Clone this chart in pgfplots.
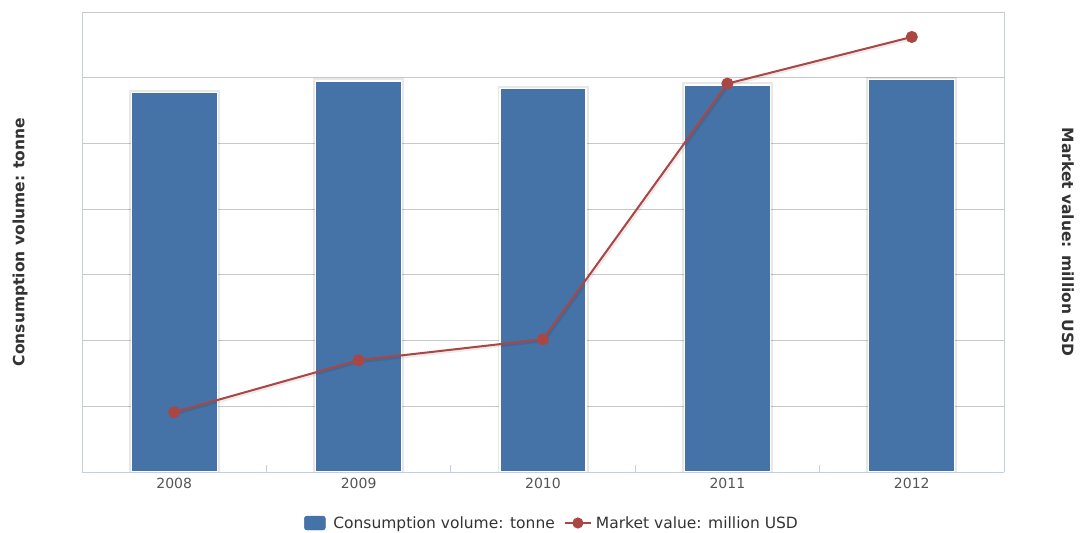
\documentclass[border=0pt]{standalone}
\usepackage{pgfplots}
\pgfplotsset{compat=1.18}
\usepackage{fontspec}
\setmainfont{DejaVu Sans}
\definecolor{barblue}{HTML}{4572A7}
\definecolor{linered}{HTML}{AA4643}
\definecolor{axisblue}{HTML}{C0D0E0}
\definecolor{gridgray}{HTML}{C8C8C8}
\definecolor{txt}{HTML}{333333}
\definecolor{ticktxt}{HTML}{555555}
\pgfplotstableread{
x value
0 0.91
1 1.70
2 2.02
3 5.91
4 6.62
}\marketvalue
\begin{document}
\begin{tikzpicture}
\useasboundingbox (-82bp,-61bp) rectangle (1001bp,472bp);
\begin{axis}[
  scale only axis, width=922bp, height=460bp,
  xmin=-0.5, xmax=4.5, ymin=0, ymax=7,
  axis x line*=bottom, axis y line*=left,
  axis line style={draw=axisblue, line width=0.8bp},
  xtick={0,1,2,3,4},
  xticklabels={2008,2009,2010,2011,2012},
  x tick label style={font=\fontsize{14bp}{16bp}\selectfont, text=ticktxt, yshift=-3bp},
  major tick length=0pt,
  extra x ticks={0.5,1.5,2.5,3.5},
  extra x tick labels={},
  extra x tick style={major tick length=7bp, tick align=inside, tick style={draw=axisblue, line width=0.8bp}, grid=none},
  ytick={1,2,3,4,5,6,7}, yticklabels={},
  ymajorgrids, grid style={draw=gridgray, line width=0.8bp},
  ybar, bar width=86bp,
]
\addplot[fill=barblue, draw=white, line width=1.2bp,
  preaction={draw=black, draw opacity=0.09, line width=5bp}]
  coordinates {(0,5.78) (1,5.95) (2,5.84) (3,5.89) (4,5.97)};
\end{axis}
\begin{axis}[
  scale only axis, width=922bp, height=460bp,
  xmin=-0.5, xmax=4.5, ymin=0, ymax=7,
  axis x line=none, axis y line*=right,
  axis line style={draw=axisblue, line width=0.8bp},
  ytick=\empty,
  legend columns=2,
  legend style={draw=none, fill=none, at={(0.5098,-0.1109)}, anchor=center,
    font=\fontsize{15.5bp}{18bp}\selectfont, text=txt,
    /tikz/every even column/.append style={column sep=7bp}},
]
\addlegendimage{legend image code/.code={\fill[barblue, rounded corners=2.5bp] (0bp,-7bp) rectangle (21bp,7bp); \path[draw=none, fill=none] (0bp,0bp) -- (27bp,0bp);}}
\addlegendentry{Consumption volume: tonne}
\addplot[black, opacity=0.08, line width=4bp, forget plot, transform canvas={xshift=1bp, yshift=-1bp}]
  table[x=x, y=value] {\marketvalue};
\addplot[linered, line width=2bp, mark=*, mark size=5bp, mark options={fill=linered, draw=none},
  legend image code/.code={\draw[linered, line width=2bp] (0bp,0bp) -- (26bp,0bp); \fill[linered] (13bp,0bp) circle (4.5bp); \path[draw=none, fill=none] (0bp,0bp) -- (29bp,0bp);}]
  table[x=x, y=value] {\marketvalue};
\addlegendentry{Market value: million USD}
\end{axis}
\node[rotate=90, font=\bfseries\fontsize{15.5bp}{18bp}\selectfont, text=txt] at (-62bp,230bp) {Consumption volume: tonne};
\node[rotate=-90, font=\bfseries\fontsize{15.5bp}{18bp}\selectfont, text=txt] at (986bp,230bp) {Market value: million USD};
\end{tikzpicture}
\end{document}
